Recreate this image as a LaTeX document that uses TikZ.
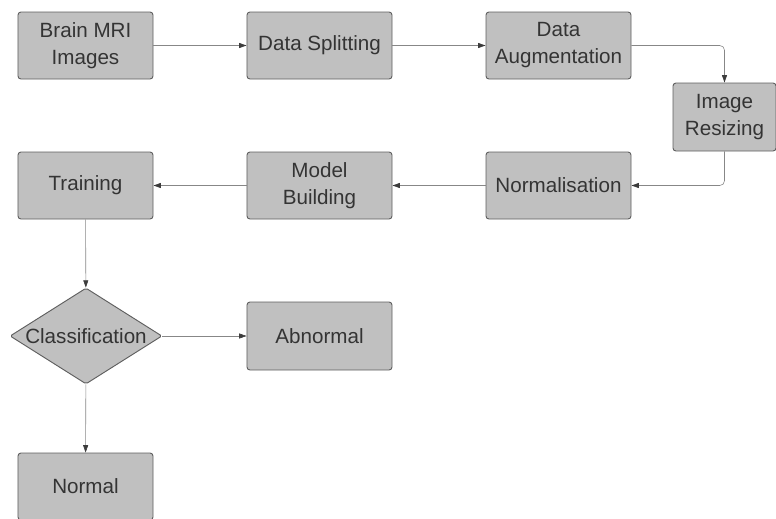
\documentclass[tikz,border=0pt]{standalone}
\usepackage{fontspec}
\setmainfont{Liberation Sans}
\usepackage{tikz}
\usetikzlibrary{
    arrows.meta,
    positioning,
    shapes.geometric
}
\usepackage{xcolor}
\definecolor{boxfill}{RGB}{192,192,192}
\definecolor{boxline}{RGB}{95,95,95}
\definecolor{linkgray}{RGB}{135,135,135}
\definecolor{tipdark}{RGB}{60,60,60}
\definecolor{textdark}{RGB}{52,52,52}

\begin{document}
\begin{tikzpicture}[
    x=0.03cm, y=-0.03cm,
    stage/.style={rectangle, rounded corners=2.5pt, draw=boxline, line width=0.8pt, fill=boxfill, minimum width=4.05cm, minimum height=2.01cm, inner sep=0pt, align=center, text=textdark, font=\fontsize{17.6}{23}\selectfont},
    wide/.style={minimum width=4.35cm},
    decision/.style={diamond, aspect=1.58, rounded corners=1.5pt, draw=boxline, line width=0.8pt, fill=boxfill, minimum width=4.56cm, minimum height=2.88cm, inner sep=0pt, text=textdark, font=\fontsize{17.6}{23}\selectfont},
    arrow/.style={-{Triangle[length=2.2mm, width=1.5mm, color=tipdark]}, line width=0.5pt, linkgray, rounded corners=4pt}
]
\useasboundingbox (0,0) rectangle (776,518);

% Top row
\node[stage] (mri) at (85.5, 45.5) {Brain MRI\\Images};
\node[stage, wide] (split) at (319.5, 45.5) {Data Splitting};
\node[stage, wide] (aug) at (558.5, 45.5) {Data\\Augmentation};

% Right column
\node[stage, minimum width=3.09cm, minimum height=2.04cm] (resize) at (724.5, 117) {Image\\Resizing};

% Second row
\node[stage, wide] (norm) at (558.5, 185.5) {Normalisation};
\node[stage, wide] (model) at (319.5, 185.5) {Model\\Building};
\node[stage] (train) at (85.5, 185.5) {Training};

% Decision
\node[decision] (cls) at (86, 336) {Classification};
\node[stage, wide, minimum height=2.04cm] (abn) at (319.5, 336) {Abnormal};
\node[stage] (normal) at (85.5, 486.5) {Normal};

% Flow
\draw[arrow] (mri) -- (split);
\draw[arrow] (split) -- (aug);
\draw[arrow] (aug.east) -| (resize.north);
\draw[arrow] (resize.south) |- (norm.east);
\draw[arrow] (norm) -- (model);
\draw[arrow] (model) -- (train);
\draw[arrow] (train) -- (cls);
\draw[arrow] (cls) -- (abn);
\draw[arrow] (cls) -- (normal);

\end{tikzpicture}
\end{document}
